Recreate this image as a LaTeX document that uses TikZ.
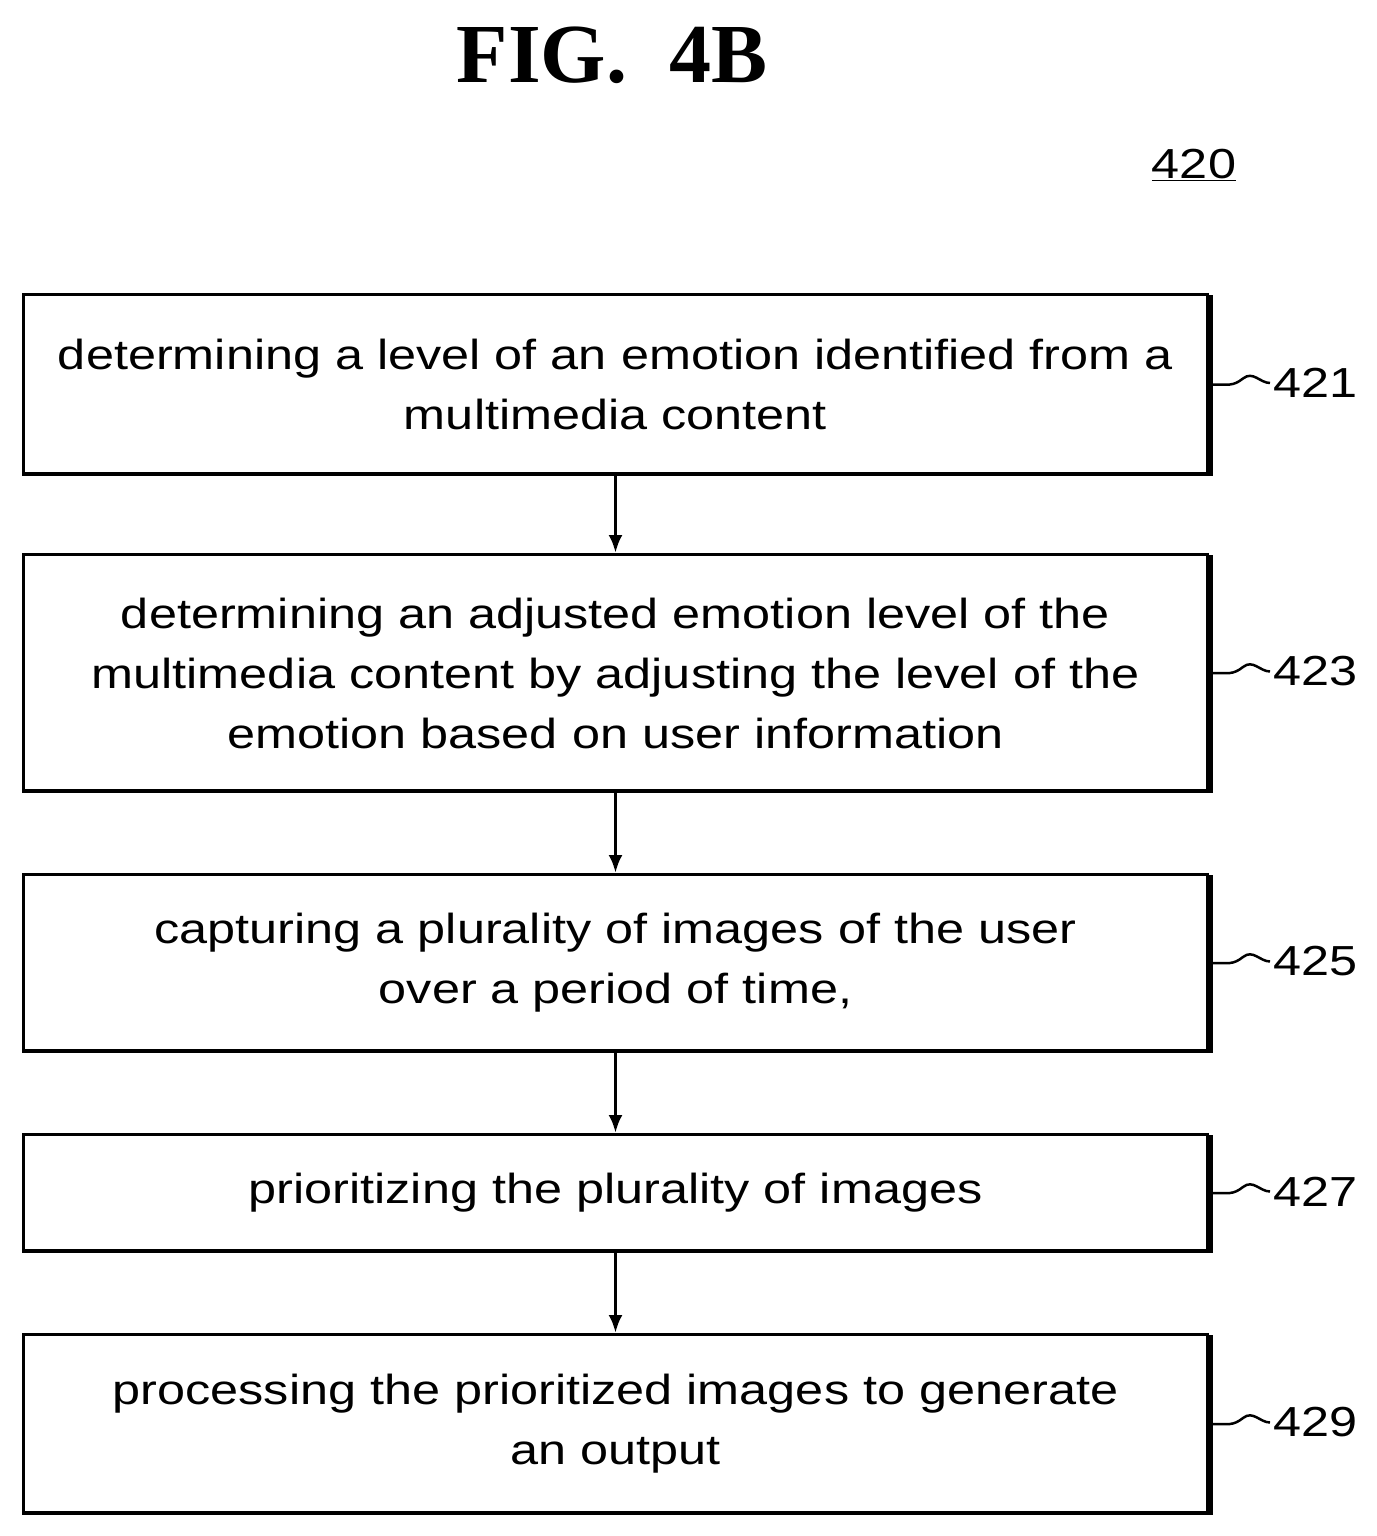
\documentclass[tikz,border=0pt]{standalone}
\usepackage{fontspec}
\setmainfont{Liberation Sans}
\newfontfamily\boxfont[FakeStretch=1.2]{Liberation Sans}
\newfontfamily\titlefont{Liberation Serif}
\usetikzlibrary{arrows.meta}
\begin{document}
\begin{tikzpicture}[x=1pt,y=-1pt,
 box/.style={draw,line width=3pt,minimum width=1184pt,anchor=north west,inner sep=0pt,align=center,font=\boxfont\fontsize{42}{60}\selectfont},
 arr/.style={line width=3.5pt,-{Latex[length=18pt,width=14pt]}},
 lab/.style={font=\boxfont\fontsize{42}{50}\selectfont,anchor=west},
 sq/.style={line width=2.5pt}]
\useasboundingbox (0,0) rectangle (1376,1536);
\node[font=\titlefont\bfseries\fontsize{84}{90}\selectfont] (title) at (612,55) {FIG.\ \ 4B};
\node[font=\boxfont\fontsize{42}{50}\selectfont] (ref) at (1194,165) {\underline{420}};
\foreach \n/\t/\h/\lab/\txt in {
 a/293/180/421/{determining a level of an emotion identified from a\\multimedia content},
 b/553/237/423/{determining an adjusted emotion level of the\\multimedia content by adjusting the level of the\\emotion based on user information},
 c/873/177/425/{capturing a plurality of images of the user\\over a period of time,},
 d/1133/117/427/{prioritizing the plurality of images},
 e/1333/179/429/{processing the prioritized images to generate\\an output}}{
 \node[box,minimum height=\h pt] (\n) at (22,\t) {\txt};
 \draw[line width=3.5pt] ([xshift=2pt,yshift=-2pt]\n.north east) -- ([xshift=2pt,yshift=2pt]\n.south east) -- ([xshift=2pt,yshift=2pt]\n.south west);
 \node[lab] (l\n) at (1270,\t+\h/2) {\lab};
 \draw[sq] ([xshift=4pt]\n.east) .. controls +(15,0) and +(-10,8) .. +(30,-6) .. controls +(10,-8) and +(-10,0) .. (l\n.west);
}
\draw[arr] (a) -- (b);
\draw[arr] (b) -- (c);
\draw[arr] (c) -- (d);
\draw[arr] (d) -- (e);
\end{tikzpicture}
\end{document}
